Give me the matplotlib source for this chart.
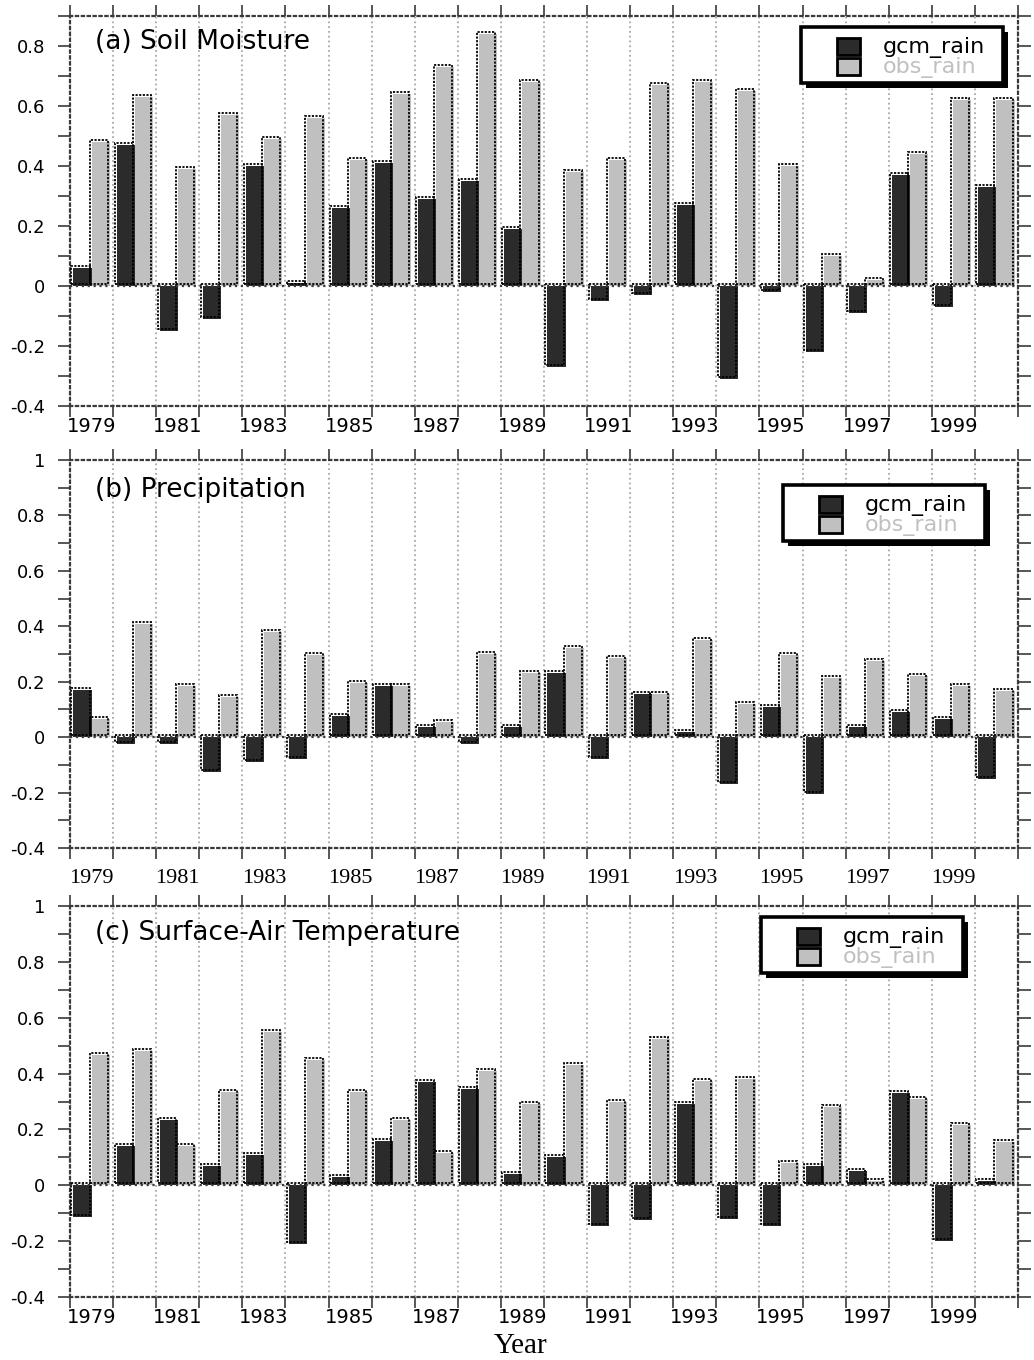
import numpy as np
import matplotlib.pyplot as plt
import matplotlib.transforms as mtransforms
from matplotlib.patches import Rectangle
from matplotlib.ticker import MultipleLocator, FuncFormatter

plt.rcParams["font.family"] = "DejaVu Sans"
plt.rcParams["axes.unicode_minus"] = False

# ==========================================================
# Data
# ==========================================================
years = list(range(1979, 2001))
year_labels = [str(a) for a in years if a % 2 == 1]
series_names = ["gcm_rain", "obs_rain"]
panel_titles = ["(a) Soil Moisture", "(b) Precipitation", "(c) Surface-Air Temperature"]

soil_gcm = [0.06, 0.47, -0.15, -0.11, 0.40, 0.01, 0.26, 0.41, 0.29, 0.35, 0.19,
            -0.27, -0.05, -0.03, 0.27, -0.31, -0.02, -0.22, -0.09, 0.37, -0.07, 0.33]
soil_obs = [0.48, 0.63, 0.39, 0.57, 0.49, 0.56, 0.42, 0.64, 0.73, 0.84, 0.68,
            0.38, 0.42, 0.67, 0.68, 0.65, 0.40, 0.10, 0.02, 0.44, 0.62, 0.62]

prec_gcm = [0.17, -0.025, -0.025, -0.125, -0.09, -0.08, 0.075, 0.185, 0.035, -0.025, 0.035,
            0.23, -0.08, 0.155, 0.02, -0.17, 0.11, -0.205, 0.035, 0.09, 0.065, -0.15]
prec_obs = [0.065, 0.41, 0.185, 0.145, 0.38, 0.295, 0.195, 0.185, 0.055, 0.30, 0.23,
            0.32, 0.285, 0.155, 0.35, 0.12, 0.295, 0.215, 0.275, 0.22, 0.185, 0.165]

temp_gcm = [-0.115, 0.14, 0.235, 0.07, 0.11, -0.21, 0.03, 0.16, 0.37, 0.345, 0.04,
            0.10, -0.145, -0.125, 0.29, -0.12, -0.145, 0.07, 0.05, 0.33, -0.20, 0.015]
temp_obs = [0.465, 0.48, 0.14, 0.335, 0.55, 0.45, 0.335, 0.235, 0.115, 0.41, 0.29,
            0.43, 0.30, 0.525, 0.375, 0.38, 0.08, 0.28, 0.015, 0.31, 0.215, 0.155]

gcm_color = "#2b2b2b"
obs_color = "#c0c0c0"
line_color = "#3a3a3a"

W, H = 1034, 1360
fig = plt.figure(figsize=(W / 100, H / 100), dpi=100)

# axes boxes in pixels: (left, top, right, bottom)
boxes = [(70, 16, 1018, 406), (70, 460, 1018, 848), (70, 906, 1018, 1297)]
ytops = [0.9, 1.0, 1.0]
legend_pos = [(801, 27), (783, 485), (761, 917)]
title_y = [0.933, 0.923, 0.931]
panels = [(soil_gcm, soil_obs), (prec_gcm, prec_obs), (temp_gcm, temp_obs)]

bar_w = 0.42
shift = mtransforms.ScaledTranslation(-2 / 100, 2 / 100, fig.dpi_scale_trans)


def draw_bars(ax, values, offset, color):
    x = np.array(years) + offset
    ax.bar(x, values, width=bar_w, color=color, linewidth=0, zorder=2)
    outline = ax.bar(x, values, width=bar_w, fill=False, edgecolor="black",
                     linestyle=(0, (1.2, 0.8)), linewidth=1.3, zorder=3)
    for p in outline:
        p.set_transform(ax.transData + shift)


def fx(px):
    return px / W


def fy(py):
    return 1 - py / H


def draw_legend(left, top):
    bw, bh = 202, 56
    fig.add_artist(Rectangle((fx(left + 5), fy(top + bh + 5)), bw / W, bh / H,
                             transform=fig.transFigure, facecolor="black",
                             edgecolor="none", zorder=5))
    fig.add_artist(Rectangle((fx(left), fy(top + bh)), bw / W, bh / H,
                             transform=fig.transFigure, facecolor="white",
                             edgecolor="black", linewidth=2.6, zorder=6))
    colors = [gcm_color, obs_color]
    for k in range(2):
        y0 = top + 11 + 20 * k
        fig.add_artist(Rectangle((fx(left + 36), fy(y0 + 17)), 23 / W, 17 / H,
                                 transform=fig.transFigure, facecolor=colors[k],
                                 edgecolor="black", linewidth=2.0, zorder=7))
        fig.text(fx(left + 82), fy(y0 + 9), series_names[k], fontsize=16,
                 color="black" if k == 0 else obs_color, va="center", ha="left",
                 zorder=8)


for i, (l, t, r, b) in enumerate(boxes):
    ax = fig.add_axes([fx(l), fy(b), (r - l) / W, (b - t) / H])
    gcm, obs = panels[i]

    draw_bars(ax, gcm, -0.21, gcm_color)
    draw_bars(ax, obs, 0.21, obs_color)
    ax.axhline(0, color=line_color, linestyle=":", linewidth=1.6, zorder=4)

    ax.set_xlim(years[0] - 0.5, years[-1] + 0.5)
    ax.set_ylim(-0.4, ytops[i])

    # year boundaries -> ticks + grid, labels at odd years
    ax.set_xticks(np.arange(years[0] - 0.5, years[-1] + 1, 1))
    ax.set_xticks([a for a in years if a % 2 == 1], year_labels, minor=True)
    ax.tick_params(axis="x", which="major", top=True, bottom=True, direction="out",
                   length=8, width=1.2, color=line_color, labelbottom=False)
    if i == 1:
        ax.tick_params(axis="x", which="minor", length=0, pad=15, labelsize=16,
                       labelfontfamily="Liberation Serif")
    else:
        ax.tick_params(axis="x", which="minor", length=0, pad=8, labelsize=14)
    ax.grid(axis="x", which="major", color="#a8a8a8", linestyle=":", linewidth=1.3)
    ax.set_axisbelow(True)

    ax.yaxis.set_major_locator(MultipleLocator(0.2))
    ax.yaxis.set_minor_locator(MultipleLocator(0.1))
    ax.yaxis.set_major_formatter(FuncFormatter(lambda v, p: f"{round(v, 2) + 0.0:g}"))
    ax.tick_params(axis="y", which="both", left=True, right=True, direction="out",
                   length=9, width=1.2, color=line_color)
    ax.tick_params(axis="y", which="major", labelsize=13, pad=9)

    for s in ax.spines.values():
        s.set_linestyle(":")
        s.set_color(line_color)
        s.set_linewidth(1.6)

    ax.text(0.026, title_y[i], panel_titles[i], transform=ax.transAxes,
            fontsize=19, va="center", ha="left")

    draw_legend(*legend_pos[i])

fig.text(fx(521), fy(1346), "Year", fontsize=21, family="Liberation Serif",
         ha="center", va="center")

fig.savefig("out.png", dpi=100)
